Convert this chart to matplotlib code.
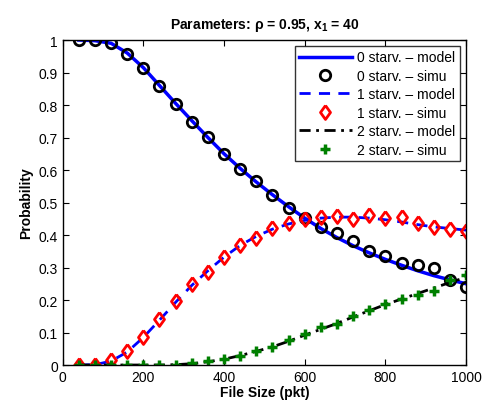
import matplotlib
matplotlib.use("Agg")
import matplotlib.pyplot as plt

plt.rcParams['font.family'] = ['Liberation Sans', 'DejaVu Sans']
plt.rcParams['mathtext.fontset'] = 'custom'
plt.rcParams['mathtext.rm'] = 'Liberation Sans'
plt.rcParams['mathtext.bf'] = 'Liberation Sans:bold'

# file sizes (pkt)
file_size = [40, 80, 120, 160, 200, 240, 280, 320, 360, 400, 440, 480, 520,
             560, 600, 640, 680, 720, 760, 800, 840, 880, 920, 960, 1000]

# model curves
model0 = [1.0, 0.998, 0.99, 0.96, 0.915, 0.86, 0.805, 0.752, 0.70, 0.65, 0.605,
          0.563, 0.524, 0.487, 0.452, 0.42, 0.392, 0.367, 0.345, 0.325, 0.307,
          0.29, 0.275, 0.262, 0.25]
model1 = [0.0, 0.001, 0.012, 0.04, 0.085, 0.138, 0.193, 0.245, 0.29, 0.332, 0.368,
          0.396, 0.418, 0.434, 0.445, 0.452, 0.455, 0.455, 0.452, 0.447, 0.44,
          0.432, 0.425, 0.42, 0.415]
model2 = [0.0, 0.0, 0.0, 0.0, 0.0, 0.0, 0.001, 0.004, 0.01, 0.018, 0.029, 0.042,
          0.056, 0.073, 0.092, 0.11, 0.128, 0.148, 0.167, 0.186, 0.203, 0.22,
          0.237, 0.254, 0.27]

# simulation points
simu0 = [1.0, 1.0, 0.99, 0.958, 0.914, 0.859, 0.803, 0.748, 0.702, 0.65, 0.604,
         0.565, 0.524, 0.483, 0.451, 0.424, 0.405, 0.382, 0.351, 0.336, 0.314,
         0.307, 0.299, 0.262, 0.241]
simu1 = [0.0, 0.0, 0.014, 0.042, 0.087, 0.142, 0.197, 0.248, 0.285, 0.331, 0.37,
         0.39, 0.422, 0.436, 0.449, 0.455, 0.459, 0.45, 0.462, 0.451, 0.454,
         0.438, 0.424, 0.418, 0.413]
simu2 = [0.0, 0.0, 0.0, 0.0, 0.0, 0.0, 0.0, 0.005, 0.011, 0.018, 0.028, 0.044,
         0.056, 0.077, 0.096, 0.118, 0.126, 0.152, 0.17, 0.187, 0.202, 0.215,
         0.227, 0.262, 0.276]

# tall diamond like matlab's 'd'
diamond = [(0, 1), (0.72, 0), (0, -1), (-0.72, 0), (0, 1)]

fig = plt.figure(figsize=(4.82, 4.06), dpi=100)
ax = fig.add_axes([0.130, 0.0985, 0.837, 0.8005])

ax.plot(file_size, model0, color='#0000ff', lw=2.5, label='0 starv. \u2013 model')
ax.plot(file_size, simu0, 'o', mfc='none', mec='black', mew=2, ms=7.5,
        label='0 starv. \u2013 simu')
ax.plot(file_size, model1, color='#0000ff', lw=2, ls=(0, (4, 3)),
        label='1 starv. \u2013 model')
ax.plot(file_size, simu1, marker=diamond, ls='none', mfc='none', mec='red',
        mew=2, ms=10, label='1 starv. \u2013 simu')
ax.plot(file_size, model2, color='black', lw=2, ls=(0, (4, 2, 1, 2)),
        label='2 starv. \u2013 model')
ax.plot(file_size, simu2, '+', color='green', mew=2.5, ms=7,
        label='2 starv. \u2013 simu')

ax.set_xlim(0, 1000)
ax.set_ylim(0, 1)
ax.set_xticks([0, 200, 400, 600, 800, 1000])
ax.set_yticks([i / 10 for i in range(11)])
ax.set_yticklabels(['0', '0.1', '0.2', '0.3', '0.4', '0.5', '0.6', '0.7',
                    '0.8', '0.9', '1'])
ax.tick_params(direction='in', top=True, right=True, labelsize=10, length=4)
for s in ax.spines.values():
    s.set_linewidth(1)

ax.set_xlabel('File Size (pkt)', fontsize=10, fontweight='bold', labelpad=1)
ax.set_ylabel('Probability', fontsize=10, fontweight='bold', labelpad=4)
ax.set_title('Parameters: \u03c1 = 0.95, x$_{\\mathbf{1}}$ = 40', fontsize=10,
             fontweight='bold', pad=9)

leg = ax.legend(loc='upper right', fontsize=10, frameon=True, fancybox=False,
                edgecolor='black', borderaxespad=0.45, handlelength=3.8,
                labelspacing=0.32, borderpad=0.3, handletextpad=0.4)
leg.get_frame().set_linewidth(1)

fig.savefig('out.png', dpi=100)
